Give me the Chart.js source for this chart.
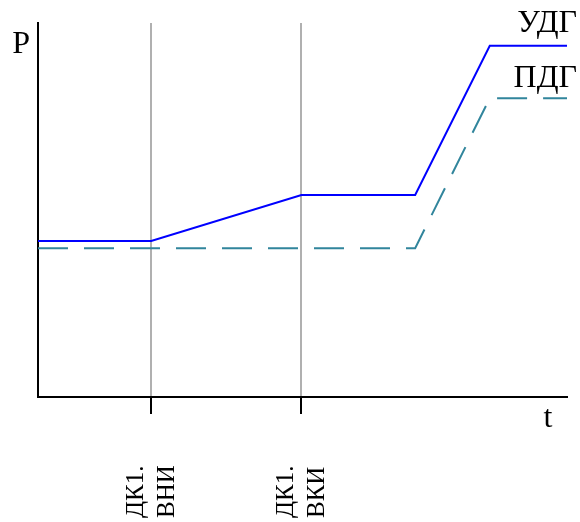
<!DOCTYPE html>
<html>
<head>
<meta charset="utf-8">
<script src="https://cdn.jsdelivr.net/npm/chart.js@4"></script>
<style>
    body { margin: 0; background: #fff; }
    canvas { display: block; }
</style>
</head>
<body>
<canvas id="pressureChart" width="580" height="522"></canvas>
<script>
// time axis (relative units 0..100) and pressure levels (relative units 0..100)
let udgTime = [0, 21.4, 49.8, 71.3, 85.4, 100];
let udgValues = [41.7, 41.7, 54.0, 54.0, 93.9, 93.9];
let pdgTime = [0, 71.3, 85.4, 100];
let pdgValues = [39.8, 39.8, 79.9, 79.9];
let seriesNames = ["УДГ", "ПДГ"];
let eventTicks = [21.4, 49.8];
let eventLabels = [["ДК1.", "ВНИ"], ["ДК1.", "ВКИ"]];

const serif = '"Liberation Serif", "Times New Roman", serif';

function toPoints(xs, ys) {
    return xs.map((x, i) => ({ x: x, y: ys[i] }));
}

// draws axis letters, series names and the rotated event labels
const textPlugin = {
    id: "textPlugin",
    afterDraw(chart) {
        let ctx = chart.ctx;
        let area = chart.chartArea;
        let xScale = chart.scales.x;
        let nameGap = [14, 11];
        ctx.save();
        ctx.fillStyle = "#000";
        ctx.font = "32px " + serif;
        ctx.textBaseline = "alphabetic";

        ctx.textAlign = "right";
        ctx.fillText("P", area.left - 8, area.top + 30);

        ctx.textAlign = "center";
        ctx.fillText("t", area.right - 19, area.bottom + 30);

        ctx.textAlign = "right";
        chart.data.datasets.forEach((ds, i) => {
            let meta = chart.getDatasetMeta(i);
            let last = meta.data[meta.data.length - 1];
            ctx.fillText(seriesNames[i], area.right + 10, last.y - nameGap[i]);
        });

        ctx.font = "25px " + serif;
        ctx.textAlign = "left";
        ctx.textBaseline = "middle";
        eventTicks.forEach((v, i) => {
            let px = xScale.getPixelForValue(v);
            ctx.save();
            ctx.translate(px, area.bottom + 121);
            ctx.rotate(-Math.PI / 2);
            ctx.fillText(eventLabels[i][0], 0, -15);
            ctx.fillText(eventLabels[i][1], 0, 16);
            ctx.restore();
        });
        ctx.restore();
    }
};

let ctx = document.getElementById("pressureChart").getContext("2d");
let chart = new Chart(ctx, {
    type: "line",
    data: {
        datasets: [{
            label: seriesNames[0],
            data: toPoints(udgTime, udgValues),
            borderColor: "#0000ff",
            borderWidth: 2,
            pointRadius: 0,
            tension: 0
        }, {
            label: seriesNames[1],
            data: toPoints(pdgTime, pdgValues),
            borderColor: "#31859c",
            borderWidth: 2,
            borderDash: [30, 16],
            pointRadius: 0,
            tension: 0
        }]
    },
    options: {
        responsive: false,
        animation: false,
        layout: { padding: { top: 23, right: 13, left: 0, bottom: 0 } },
        plugins: {
            legend: { display: false },
            tooltip: { enabled: false }
        },
        scales: {
            x: {
                type: "linear",
                min: 0,
                max: 100,
                afterBuildTicks: scale => {
                    scale.ticks = eventTicks.map(v => ({ value: v }));
                },
                afterFit: scale => {
                    scale.height = 125;
                },
                grid: {
                    color: "#b0b0b0",
                    lineWidth: 2,
                    tickColor: "#000",
                    tickWidth: 2,
                    tickLength: 17
                },
                border: { color: "#000", width: 2 },
                ticks: { display: false }
            },
            y: {
                min: 0,
                max: 100,
                afterFit: scale => {
                    scale.width = 38;
                },
                grid: { display: false },
                border: { color: "#000", width: 2 },
                ticks: { display: false }
            }
        }
    },
    plugins: [textPlugin]
});
</script>
</body>
</html>
